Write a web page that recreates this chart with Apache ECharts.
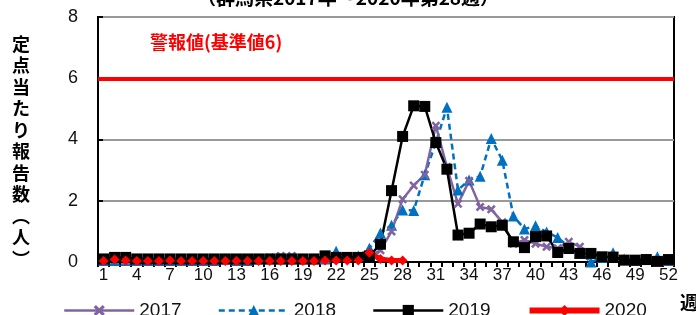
<!DOCTYPE html>
<html>
<head>
<meta charset="utf-8">
<script src="https://cdn.jsdelivr.net/npm/echarts@6/dist/echarts.min.js"></script>
<style>
html, body { margin: 0; padding: 0; background: #fff; }
#main { width: 696px; height: 315px; }
</style>
</head>
<body>
<div id="main"></div>
<script>
// 週 1..52
var weeks = [];
for (var i = 1; i <= 52; i++) weeks.push(String(i));

var d2017 = [0.1, 0.1, 0.05, 0.05, 0.05, 0.05, 0.05, 0.05, 0.05, 0.05,
	0.05, 0.05, 0.05, 0.1, 0.1, 0.15, 0.2, 0.2, 0.1, 0.1,
	0.1, 0.1, 0.15, 0.15, 0.2, 0.38, 1.0, 2.05, 2.5, 2.85,
	4.45, 3.1, 1.9, 2.65, 1.8, 1.72, 1.3, 0.6, 0.72, 0.6,
	0.5, 0.45, 0.66, 0.5, 0.3, 0.2, 0.15, 0.1, 0.05, 0.05,
	0.05, 0.05];
var d2018 = [0.05, 0.05, 0.05, 0.05, 0.05, 0.05, 0.05, 0.05, 0.05, 0.05,
	0.05, 0.1, 0.05, 0.05, 0.1, 0.1, 0.1, 0.1, 0.1, 0.1,
	0.1, 0.35, 0.15, 0.2, 0.45, 0.95, 1.2, 1.7, 1.68, 2.85,
	3.9, 5.05, 2.35, 2.68, 2.8, 4.03, 3.32, 1.5, 1.08, 1.18,
	0.98, 0.8, 0.5, 0.3, 0.0, 0.15, 0.3, 0.1, 0.05, 0.1,
	0.17, 0.05];
var d2019 = [0.1, 0.15, 0.15, 0.1, 0.1, 0.1, 0.1, 0.1, 0.1, 0.1,
	0.1, 0.1, 0.1, 0.1, 0.1, 0.1, 0.1, 0.1, 0.1, 0.1,
	0.2, 0.15, 0.15, 0.15, 0.2, 0.58, 2.33, 4.1, 5.1, 5.08,
	3.9, 3.03, 0.88, 0.94, 1.24, 1.15, 1.2, 0.66, 0.47, 0.83,
	0.85, 0.31, 0.44, 0.28, 0.28, 0.17, 0.16, 0.06, 0.06, 0.08,
	0.02, 0.08];
var d2020 = [0.03, 0.08, 0.05, 0.03, 0.03, 0.03, 0.05, 0.03, 0.03, 0.03,
	0.03, 0.03, 0.03, 0.03, 0.03, 0.03, 0.03, 0.03, 0.03, 0.03,
	0.05, 0.05, 0.05, 0.05, 0.3, 0.1, 0.05, 0.05];

var alertLevel = 6;
var yTicks = { min: 0, max: 8, interval: 2 };

var crossPath = 'path://M2,0 L5,3 L8,0 L10,2 L7,5 L10,8 L8,10 L5,7 L2,10 L0,8 L3,5 L0,2 Z';
var numFont = '"Liberation Sans", Arial, sans-serif';
var jpFont = '"Noto Sans CJK JP", sans-serif';

var myChart = echarts.init(document.getElementById('main'));
var option = {
	animation: false,
	textStyle: { fontFamily: numFont },
	grid: {
		left: 98, right: 22, top: 17, bottom: 53,
		show: true,
		borderColor: '#000',
		borderWidth: 2,
		backgroundColor: 'transparent'
	},
	legend: {
		data: [
			{ name: '2017', lineStyle: { width: 2.5 } },
			{ name: '2018', lineStyle: { width: 2.5, type: [6, 4] } },
			{ name: '2019', lineStyle: { width: 2.5 } },
			{ name: '2020', lineStyle: { width: 6 } }
		],
		left: 58,
		top: 296,
		itemWidth: 70,
		itemHeight: 14,
		itemGap: 36,
		textStyle: { fontSize: 19, color: '#111', fontFamily: numFont }
	},
	graphic: [
		{ // タイトル（上部が切れている）
			type: 'text', left: 'center', top: -12,
			style: { text: '（群馬県2017年～2020年第28週）', fontSize: 19, fontWeight: 'bold', fill: '#000', fontFamily: jpFont }
		},
		{
			type: 'text', left: 150, top: 33,
			style: { text: '警報値(基準値6)', fontSize: 18, fontWeight: 'bold', fill: '#ff0000', fontFamily: jpFont }
		},
		{ // 縦書きの軸名
			type: 'text', left: 12, top: 33,
			style: { text: '定\n点\n当\nた\nり\n報\n告\n数\n︵\n人\n︶', fontSize: 18, lineHeight: 21.5, fontWeight: 'bold', fill: '#000', fontFamily: jpFont }
		},
		{
			type: 'text', left: 680, top: 293,
			style: { text: '週', fontSize: 19, fontWeight: 'bold', fill: '#000', fontFamily: jpFont }
		}
	],
	xAxis: {
		type: 'category',
		data: weeks,
		boundaryGap: true,
		axisLine: { lineStyle: { color: '#000', width: 2 } },
		axisTick: { show: true, interval: 0, length: 5, lineStyle: { color: '#000', width: 2 } },
		axisLabel: { interval: 2, color: '#111', fontSize: 17, margin: 5, fontFamily: numFont },
		splitLine: { show: false }
	},
	yAxis: {
		type: 'value',
		min: yTicks.min,
		max: yTicks.max,
		interval: yTicks.interval,
		axisLine: { show: true, lineStyle: { color: '#000', width: 2 } },
		axisTick: { show: true, inside: true, length: 5, lineStyle: { color: '#000', width: 2 } },
		axisLabel: { color: '#111', fontSize: 18, margin: 20, fontFamily: numFont },
		splitLine: { show: true, lineStyle: { color: '#999', width: 2 } }
	},
	series: [
		{
			name: '2018',
			type: 'line',
			data: d2018,
			showAllSymbol: true,
			symbol: 'triangle',
			symbolSize: 11,
			color: '#0070c0',
			lineStyle: { color: '#0070c0', width: 2.5, type: [6, 4] },
			itemStyle: { color: '#0070c0' }
		},
		{
			name: '2017',
			type: 'line',
			data: d2017,
			showAllSymbol: true,
			symbol: crossPath,
			symbolSize: 9,
			color: '#8064a2',
			lineStyle: { color: '#8064a2', width: 2.5 },
			itemStyle: { color: '#8064a2' }
		},
		{
			name: '2019',
			type: 'line',
			data: d2019,
			showAllSymbol: true,
			symbol: 'rect',
			symbolSize: 11,
			color: '#000',
			lineStyle: { color: '#000', width: 2.5 },
			itemStyle: { color: '#000' }
		},
		{
			name: '2020',
			type: 'line',
			data: d2020,
			showAllSymbol: true,
			symbol: 'diamond',
			symbolSize: 10,
			color: '#ff0000',
			lineStyle: { color: '#ff0000', width: 5 },
			itemStyle: { color: '#ff0000' },
			markLine: {
				silent: true,
				symbol: 'none',
				label: { show: false },
				lineStyle: { color: '#ff0000', width: 4, type: 'solid' },
				data: [{ yAxis: alertLevel }]
			}
		}
	]
};
myChart.setOption(option);
</script>
</body>
</html>
